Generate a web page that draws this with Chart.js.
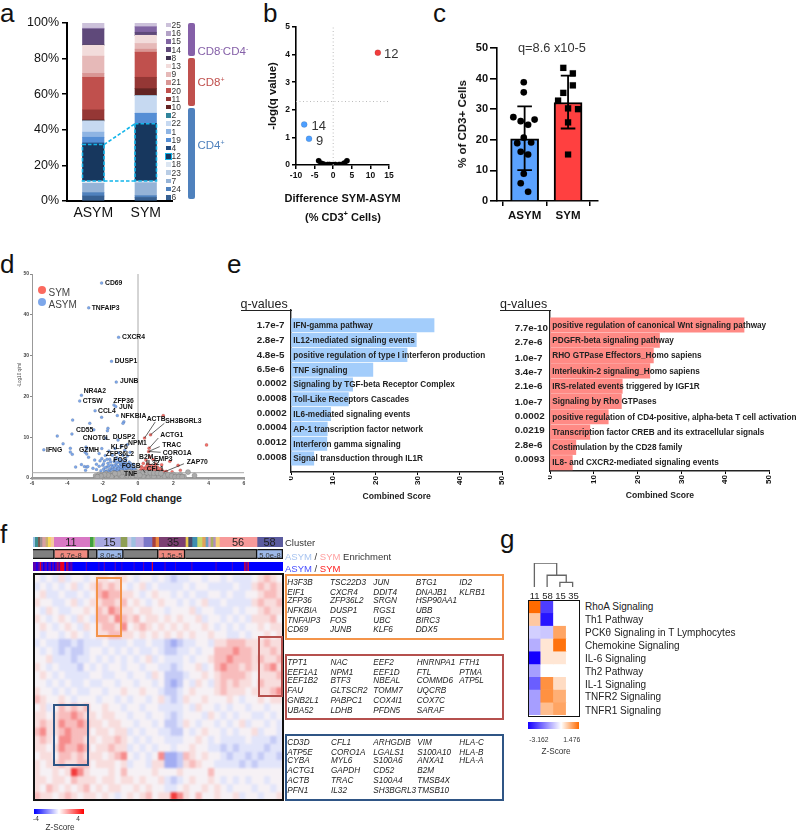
<!DOCTYPE html>
<html>
<head>
<meta charset="utf-8">
<script src="https://cdn.jsdelivr.net/npm/chart.js@4/dist/chart.umd.js"></script>
<style>
  html, body { margin: 0; padding: 0; background: #fff; }
  #page { position: relative; width: 800px; height: 830px; overflow: hidden; font-family: "Liberation Sans", Arial, sans-serif; }
  #page canvas { position: absolute; }
  .t { position: absolute; white-space: nowrap; transform: translateY(-50%); }
  .box { position: absolute; box-sizing: border-box; }
</style>
</head>
<body>
<div id="page"></div>
<script>
// --- panel a: cluster shares, bottom of the stack first ---
const clusterIds = ['6','24','7','23','18','12','4','19','1','22','2','10','11','20','21','9','13','8','14','15','16','25'];
const clusterColors = ['#376092','#4f81bd','#95b3d7','#b9cde5','#dce6f2','#17375e','#1f497d','#558ed5','#8eb4e3','#c6d9f1','#31859c','#632423','#953735','#c0504d','#d99694','#e6b9b8','#f2dcdb','#3f3151','#5f497a','#8064a2','#b3a2c7','#ccc1da'];
const asymShares = [2.8,1.9,5.2,0,1.3,20.5,0.9,3.2,2.9,6.3,0,0.6,5.6,18.3,2.2,9.7,6.1,0.2,8.9,0.1,0.4,2.9];
const symShares = [2.0,1.0,7.2,0,1.0,32.2,0.2,5.7,0,9.9,0,3.9,6.4,14.1,1.7,3.2,4.6,0,1.7,3.0,0.3,1.9];
const groupLabels = ['ASYM','SYM'];
const pctTicks = [0,20,40,60,80,100];

// --- panel b ---
const diffUp = [[12,4.07]];
const diffDown = [[-7.8,1.47],[-6.5,0.95]];
const diffFlat = [[-3.9,0.15],[-3.2,0.06],[-2.6,0.03],[-1.5,0.02],[-1,0.02],[-0.6,0.01],[-0.2,0.01],[0.2,0.01],[0.6,0.02],[1.6,0.02],[2.2,0.02],[3,0.07],[3.7,0.15]];
const qCutoff = 2.3;

// --- panel c ---
const meanShare = [20.3,32.2];
const errLow = [10.1,23.7];
const errHigh = [30.9,41];
const asymDots = [[-0.02,38.8],[-0.02,35.5],[-0.26,27.4],[0.23,26.6],[-0.09,26.1],[0.08,24.9],[-0.02,20.7],[-0.17,18.9],[0.15,19.1],[-0.09,16.1],[0.08,15.2],[-0.02,8.9],[-0.09,5.8],[0.08,3]];
const symDots = [[0.89,43.5],[1.11,41.7],[1.11,37.8],[0.89,35.3],[0.77,32.8],[1,30.3],[1.23,30],[1,25.7],[1,15.2]];

// --- panel d: volcano, [log2 fold change, -log10 q] ---
const volcanoAsym = [[-2.06,47.8],[-2.79,41.7],[-1.1,34.5],[-1.5,28.6],[-1.23,23.5],[-3.2,20.3],[-3.3,18.9],[-1.36,17.9],[-1.26,17.5],[-2.43,16.5],[-1.17,15.3],[-2.06,14.9],[-3.7,14.2],[-2.73,13.4],[-0.8,13.8],[-0.85,13.4],[-2.5,11.8],[-1.7,12.2],[-1.73,11.6],[-3.74,10.8],[-4.57,10.3],[-1.82,9.8],[-1.13,9.3],[-4.24,8.4],[-5.33,6.9],
[-3.83,7.3],[-3.83,6.4],[-3.72,5.8],[-3.53,2.7],[-3.2,3.3],[-3.03,2.8],[-2.9,2.7],[-2.97,1.9],[-2.84,2.8],[-2.94,7.6],[-2.9,7.1],[-2.99,6.3],[-2.9,5.9],[-2.8,5.1],[-2.45,4.4],[-2.35,3.4],[-2.15,4.2],[-2.05,4.8],[-2.2,6],[-2.05,7.2],[-2.55,2.4],[-2.35,2.1],[-2.2,2.9],[-2.1,1.8],[-2,3.1],[-1.95,2.2],[-1.9,4.2],[-1.85,5.5],[-1.8,1.7],[-1.75,2.7],[-1.7,3.6],[-1.65,6.6],[-1.6,1.5],[-1.6,4.6],[-1.55,2.2],[-1.5,3.2],[-1.45,5.6],[-1.4,1.6],[-1.4,2.7],[-1.35,4],[-1.3,7.2],[-1.25,2],[-1.25,3.3],[-1.2,1.5],[-1.2,5],[-1.15,2.6],[-1.1,3.9],[-1.1,6.2],[-1.05,1.7],[-1,2.3],[-1,3.1],[-0.95,4.4],[-0.95,7.8],[-0.9,1.5],[-0.9,2.9],[-0.85,5.6],[-0.8,2],[-0.8,3.6],[-0.75,6.8],[-0.75,1.6],[-0.7,2.6],[-0.7,4.6],[-0.65,1.9],[-0.65,3.2],[-0.6,8.2],[-0.6,5.4],[-0.55,1.5],[-0.55,2.3],[-0.5,3.9],[-0.45,1.7],[-0.45,6.3],[-0.4,2.8],[-0.35,1.5],[-0.3,2.1],[-0.25,3.4],[-0.2,1.6],[-0.15,2.2],[-1.6,2.2],[-1.3,1.6],[-1.9,1.6],[-1.45,2.1],[-1.05,2.9],[-0.85,2.3],[-0.6,1.9],[-1.7,1.8],
[-1.95,3.5],[-1.85,2.6],[-1.75,4.6],[-1.65,1.5],[-1.65,3],[-1.55,4],[-1.5,1.7],[-1.45,2.7],[-1.35,1.5],[-1.35,3],[-1.3,2.2],[-1.3,4.5],[-1.2,2.9],[-1.2,3.8],[-1.15,1.9],[-1.1,2.3],[-1.05,4.6],[-1,1.5],[-1,3.6],[-0.95,2.1],[-0.95,2.7],[-0.9,3.4],[-0.85,1.7],[-0.85,4],[-0.8,2.6],[-0.75,3.1],[-0.75,2.2],[-0.7,1.5],[-0.7,3.7],[-0.65,2.5],[-0.6,1.5],[-0.6,3],[-0.55,3.4],[-0.5,2],[-0.5,2.8],[-0.45,2.4],[-0.4,1.6],[-0.4,3.5],[-0.35,2.4],[-0.3,1.6],[-0.25,2.5],[-0.2,2.1],[-0.1,1.6]];
const volcanoSym = [[1.43,15.3],[3.88,8.1],[0.71,10.6],[0.37,9.8],[0.63,7.3],[0.6,6.5],[2.4,1.9],[1.34,3.25],[2.27,3.1],[1.8,4.1],[1.93,1.5],[1.49,1.5],[0.66,5.2],[0.85,4.6],[0.45,4.4],[0.3,3.6],[0.55,3.4],[0.75,3.1],[1,3.4],[0.2,2.8],[0.4,2.5],[0.6,2.7],[0.85,2.4],[1.1,2.7],[0.15,2],[0.3,1.8],[0.5,1.9],[0.7,1.7],[0.9,1.9],[1.15,1.8],[1.35,2],[0.12,1.5],[0.25,1.45],[0.4,1.5],[0.55,1.45],[0.75,1.5],[1,1.5],[1.2,1.45],[1.6,1.6],[0.35,2.2],[0.95,2.9],[0.5,3],
[0.2,1.7],[0.35,1.6],[0.45,1.8],[0.6,1.6],[0.65,2.1],[0.8,1.7],[0.9,1.6],[0.25,2.4],[0.45,2.2],[0.75,2.2],[1.05,2.1],[0.15,1.6],[0.55,2.3],[1.25,2.3]];
const volcanoFlat = [[-2.4,0.5],[-2.2,0.9],[-2.2,0.3],[-2,0.7],[-2,0.2],[-1.8,1.1],[-1.8,0.5],[-1.6,0.9],[-1.6,0.2],[-1.4,1.2],[-1.4,0.6],[-1.2,0.9],[-1.2,0.2],[-1,1.2],[-1,0.6],[-0.8,0.9],[-0.8,0.2],[-0.6,1.2],[-0.6,0.6],[-0.4,1.1],[-0.4,0.2],[-0.2,0.8],[-0.2,0.3],[0,1.1],[0,0.5],[0.2,0.8],[0.2,0.2],[0.4,1.1],[0.4,0.5],[0.6,0.9],[0.6,0.2],[0.8,1.1],[0.8,0.5],[1,0.8],[1,0.2],[1.2,1],[1.2,0.4],[1.4,0.7],[1.4,0.2],[1.6,0.9],[1.6,0.4],[1.8,0.6],[1.8,0.2],[2,0.8],[2,0.3],[2.2,0.5],[2.4,0.7],[2.4,0.2],[2.6,0.4],[2.83,1.46],[3.2,0.6],[-1.5,0.4],[-0.9,0.5],[-0.3,0.5],[0.3,0.5],[0.9,0.4],[1.5,0.5],
[-0.9,1.4],[-0.7,1.3],[-0.5,1.5],[-0.3,1.3],[-0.1,1.5],[0.1,1.3],[0.3,1.4],[0.5,1.3],[0.7,1.3],[0.9,1.2],[1.1,1.2],[1.3,1.1],[-1.1,1.1],[-1.3,1.1],[-1.7,0.7],[-1.9,0.8],[-2.1,0.5],[-2.3,0.3],[1.7,0.8],[1.9,0.5],[2.1,0.3],[2.3,0.3],[2.5,0.3],[-0.1,0.7],[0.1,0.7]];
const volcanoCut = 1.3;
const volcanoLeaders = [[0.37,9.8,0.97,13.7],[0.71,10.6,1.49,13.4],[0.63,7.3,1.15,9.8],[0.6,6.5,1.23,7.7],[0.6,6.5,1.28,6.3],[1.49,1.5,2.6,3.5],[0.25,2.2,0.4,1.3]];

// --- panel e ---
const asymPathways = ['IFN-gamma pathway','IL12-mediated signaling events','positive regulation of type I interferon production','TNF signaling','Signaling by TGF-beta Receptor Complex','Toll-Like Receptors Cascades','IL6-mediated signaling events','AP-1 transcription factor network','Interferon gamma signaling','Signal transduction through IL1R'];
const asymScores = [33.9,29.7,27.5,19.4,14.6,13.6,9.4,8.6,8.5,5.4];
const asymQ = ['1.7e-7','2.8e-7','4.8e-5','6.5e-6','0.0002','0.0008','0.0002','0.0004','0.0012','0.0008'];
const symPathways = ['positive regulation of canonical Wnt signaling pathway','PDGFR-beta signaling pathway','RHO GTPase Effectors_Homo sapiens','Interleukin-2 signaling_Homo sapiens','IRS-related events triggered by IGF1R','Signaling by Rho GTPases','positive regulation of CD4-positive, alpha-beta T cell activation','Transcription factor CREB and its extracellular signals','Costimulation by the CD28 family','IL8- and CXCR2-mediated signaling events'];
const symScores = [44.3,25,23.6,22.8,16.5,16.3,13.3,9.1,5.9,5.1];
const symQ = ['7.7e-10','2.7e-6','1.0e-7','3.4e-7','2.1e-6','1.0e-7','0.0002','0.0219','2.8e-6','0.0093'];

// --- panel f: annotation strips ---
const clusterStripWidths = [5,9,6,7,10,7,8,10,108,10,5,5,72,20,12,13,23,2,25,10,10,80,8,12,15,15,10,8,7,8,7,12,113,78];
const clusterStripColors = ['#9cc3e6','#3d8f8f','#7a5c50','#9a8f8f','#d9a0a0','#c8b070','#f5d75a','#f5c9a0','#d878c4','#3f9f3f','#9ccc7a','#b7a8d8','#a8a8e0','#8f9f55','#c9c9e8','#9fc0e0','#c0b0e0','#a08fd0','#7c78c8','#a8403f','#e8853f','#7b3f72','#e8c84f','#4a4a6a','#3f8fb0','#c8d86a','#e0a05a','#6a9fc0','#d8a0c8','#a8b060','#b08fc0','#f5d07a','#f79a9a','#5b5b9e'];
const enrichWidths = [64,102,26,78,104,80,215,77];
const enrichColors = ['#808080','#f08a80','#808080','#9cb8e8','#808080','#f08a80','#808080','#9cb8e8'];
const sideBlue = '#0000ff', sidePurple = '#5a00b0', sideRed = '#e80020';
const sideWidths = [8,3,6,3,5,4,6,4,7,3,5,3,6,2,5,3,7,2,4,3,5,2,6,3,32,3,30,2,12,3,25,3,15,2,30,2,22,3,20,3,30,3,25,2,40,3,60,3,40,2,30,3,6,3,90];
const sideColors = [sidePurple,sideBlue,sidePurple,sideRed,sidePurple,sideBlue,sidePurple,sideBlue,sidePurple,sideBlue,sidePurple,sideBlue,sidePurple,sideRed,sidePurple,sideRed,sideRed,sidePurple,sideBlue,sideRed,sidePurple,sideBlue,sidePurple,sideBlue,sideBlue,sidePurple,sideBlue,sidePurple,sideBlue,sidePurple,sideBlue,sidePurple,sideBlue,sidePurple,sideBlue,sidePurple,sideBlue,sidePurple,sideBlue,sideRed,sideBlue,sidePurple,sideBlue,sidePurple,sideBlue,sidePurple,sideBlue,sidePurple,sideBlue,sidePurple,sideBlue,sideRed,sidePurple,sideRed,sideBlue];

// --- panel f: heatmap read coarsely by region, one row per line, top first ---
const heatRows = [
[0,-1,0,-1,1,-1,0,0,-1,0, 1,1,0,1,1, 0,-1,0,0,-1,0, -1,-2,-1, -1,0,0,-1,0,0, -1,0,-1,-1,-1,0, 1,2,1,0],
[-1,0,-1,0,-1,0,1,-1,0,1, 2,1,2,1,0, -1,0,1,-1,0,-1, -1,-1,-1, 0,-1,0,0,-1,-1, -1,-1,0,-1,-1,1, 2,1,2,1],
[0,1,-1,-1,0,-1,-1,0,-1,0, 2,3,2,2,1, 1,0,-1,0,1,0, 0,-1,0, -1,0,-1,-1,0,0, -1,0,-1,-1,0,0, 1,2,2,1],
[1,0,0,-1,-1,0,1,-1,0,1, 1,2,2,1,2, 0,1,0,-1,0,1, 0,0,-1, 0,-1,0,1,-1,-1, 0,-1,-1,-1,-1,1, 2,1,1,2],
[0,-1,1,0,-1,-1,0,0,1,0, 2,1,3,2,1, 1,0,1,1,0,0, -1,0,0, 0,1,-1,0,0,-1, -1,-1,0,-1,0,0, 1,2,1,1],
[1,0,-1,0,1,0,-1,1,0,-1, 2,2,1,3,2, 1,2,0,1,1,0, 1,0,1, 0,0,1,-1,0,0, -1,0,-1,0,-1,1, 1,1,2,0],
[0,1,0,-1,0,1,0,-1,1,0, 1,2,2,1,3, 0,1,2,1,0,1, 0,1,0, 1,0,0,1,0,-1, 0,-1,0,-1,0,0, 1,0,1,1],
[0,-1,0,0,-1,0,1,0,-1,0, 1,1,2,2,1, 1,0,1,0,1,0, 1,0,1, 0,1,0,0,1,0, 0,-1,-1,0,-1,0, 0,1,0,1],
[-1,0,-1,-1,-2,-2,-1,-2,-1,-1, -1,0,-1,-1,-1, 0,-1,-1,0,-1,-1, -2,-3,-2, -1,-1,0,0,-1,1, 1,2,2,2,1,1, 1,2,1,1],
[0,-1,0,-1,-2,-1,-2,-2,-1,0, 0,-1,0,-1,0, -1,0,-1,-1,0,-1, -2,-2,-1, -1,0,-1,0,0,2, 2,2,3,2,2,1, 1,1,2,1],
[0,0,1,-1,-1,-1,-2,-1,-1,0, -1,0,-1,0,-1, 0,-1,0,1,-1,0, -1,-1,-1, 0,-1,0,0,1,2, 2,3,2,2,2,1, 2,1,1,2],
[1,0,-1,0,-1,-1,-1,-2,0,-1, 0,-1,0,0,-1, 0,0,-1,0,0,-1, -1,-2,-1, 0,0,1,-1,0,2, 3,2,2,1,2,1, 1,2,3,1],
[0,1,0,-1,0,-1,-1,-1,-1,0, 0,-1,-1,0,0, -1,0,0,-1,1,0, -2,-2,-2, -1,0,0,1,0,1, 2,2,2,2,1,0, 1,1,1,2],
[0,0,-1,0,-1,0,-1,-1,0,-1, -1,0,0,-1,0, 0,-1,0,0,-1,0, -2,-3,-2, 0,-1,1,0,-1,1, 2,1,2,1,1,0, 2,1,1,1],
[1,0,0,-1,0,-1,0,-1,-1,0, 0,-1,0,0,1, 0,0,1,0,0,-1, -2,-2,-1, 0,1,0,0,0,1, 2,1,1,1,0,1, 1,1,2,3],
[2,1,0,0,1,0,-1,0,0,0, -1,0,0,-1,0, -1,0,0,-1,0,1, -1,-2,-1, 1,0,0,1,0,0, 0,1,0,-1,0,0, 1,0,1,1],
[0,1,-1,0,2,1,2,1,2,0, 0,1,0,0,-1, 0,0,-1,0,0,-1, -1,-1,-1, 0,-1,1,0,0,-1, 0,-1,0,0,-1,0, 0,-1,0,0],
[1,1,0,1,2,2,3,2,1,1, 0,1,1,0,0, -1,0,0,-1,0,0, -1,-2,-1, 0,0,0,-1,1,0, -1,0,-1,0,0,-1, -1,0,-1,0],
[1,2,1,1,3,2,2,3,2,1, 1,0,1,1,0, 0,-1,0,0,-1,0, -2,-2,-1, 1,0,-1,0,0,-1, 0,-1,0,1,-1,0, 0,-1,0,-1],
[2,3,1,1,2,3,2,2,2,0, 1,1,0,1,1, -1,0,-1,0,0,-1, -1,-2,-2, 0,-1,0,1,0,0, -1,0,-1,0,0,1, -1,0,0,-1],
[1,2,1,0,3,3,2,2,1,1, 0,1,1,2,1, 0,-1,0,-1,0,0, -1,-1,-1, 0,0,1,0,-1,0, -1,-1,-1,-1,0,-1, -1,-1,-2,-1],
[1,1,0,1,3,2,2,3,2,0, 1,1,2,1,1, -1,0,-1,0,-1,0, 0,-1,0, 0,1,0,0,-1,-1, -2,-1,-2,-1,-1,-1, -1,-2,-1,-1],
[0,1,1,0,2,2,1,2,1,1, 1,0,1,2,3, 0,-1,0,-1,0,3, -3,-3,-2, 2,1,0,1,0,0, -1,-2,-1,-1,-2,-1, -2,-1,-1,-2],
[1,0,1,1,2,1,1,2,2,0, 1,1,1,0,1, -1,0,0,-1,1,1, -3,-3,-2, 1,2,1,0,0,-1, -1,-1,-1,-2,-1,-2, -1,-1,-1,-1],
[1,0,0,1,0,1,4,3,1,0, 0,0,1,0,2, 0,0,0,0,1,0, 0,0,1, 0,0,0,0,2,0, 0,0,0,0,0,0, 0,0,0,0],
[1,1,0,1,1,0,2,1,1,1, 0,1,1,0,1, 1,0,1,0,0,1, -1,-2,-1, 0,1,0,0,1,0, -1,0,-1,0,-1,0, 0,-1,0,0],
[1,0,2,1,0,1,0,1,2,0, 1,0,1,1,0, 0,1,0,1,0,0, -1,-1,0, 1,0,0,1,0,1, 0,-1,0,0,0,-1, 0,0,-1,0],
[2,1,1,0,1,2,1,0,1,1, 0,1,0,-1,0, 1,0,1,2,0,1, 1,4,3, 1,0,2,0,0,1, 0,0,1,-1,0,0, -1,0,0,1]
];
const heatPalette = {'-3':'#a3adf2','-2':'#c5cbf6','-1':'#e2e5fa','0':'#f6f1f5','1':'#f8dddd','2':'#f8bcbc','3':'#f68c8c','4':'#f23c3c'};

// --- panel f: gene lists per box ---
const geneBoxOrange = [['H3F3B','TSC22D3','JUN','BTG1','ID2'],['EIF1','CXCR4','DDIT4','DNAJB1','KLRB1'],['ZFP36','ZFP36L2','SRGN','HSP90AA1',''],['NFKBIA','DUSP1','RGS1','UBB',''],['TNFAIP3','FOS','UBC','BIRC3',''],['CD69','JUNB','KLF6','DDX5','']];
const geneBoxRed = [['TPT1','NAC','EEF2','HNRNPA1','FTH1'],['EEF1A1','NPM1','EEF1D','FTL','PTMA'],['EEF1B2','BTF3','NBEAL','COMMD6','ATP5L'],['FAU','GLTSCR2','TOMM7','UQCRB',''],['GNB2L1','PABPC1','COX4I1','COX7C',''],['UBA52','LDHB','PFDN5','SARAF','']];
const geneBoxBlue = [['CD3D','CFL1','ARHGDIB','VIM','HLA-C'],['ATP5E','CORO1A','LGALS1','S100A10','HLA-B'],['CYBA','MYL6','S100A6','ANXA1','HLA-A'],['ACTG1','GAPDH','CD52','B2M',''],['ACTB','TRAC','S100A4','TMSB4X',''],['PFN1','IL32','SH3BGRL3','TMSB10','']];

// --- panel g ---
const ipaClusters = ['11','58','15','35'];
const ipaPathways = ['RhoA Signaling','Th1 Pathway','PCK\u03B8 Signaling in T Lymphocytes','Chemokine Signaling','IL-6 Signaling','Th2 Pathway','IL-1 Signaling','TNFR2 Signaling','TNFR1 Signaling'];
const ipaZ = [
[1.476,-2.4,0,0],
[0.55,-2.9,0,0],
[-0.6,-0.7,0.9,0],
[-1,0.25,1.4,0],
[-3.162,0.25,0.25,0],
[-1.2,0,0,0],
[-2,1.1,0.35,0],
[-1.2,1.1,0.8,0],
[-1.2,0.65,0.9,0]
];
const dendroLinks = [[[2,0],[2,0.19],[3,0.19],[3,0]],[[1,0],[1,0.49],[2.5,0.49],[2.5,0.19]],[[0,0],[0,1],[1.75,1],[1.75,0.49]]];

const page = document.getElementById('page');
Chart.defaults.font.family = '"Liberation Sans", Arial, sans-serif';

function txt(html, x, y, css) {
    const el = document.createElement('div');
    el.className = 't';
    el.innerHTML = html;
    el.style.cssText = 'left:' + x + 'px;top:' + y + 'px;' + (css || '');
    page.appendChild(el);
    return el;
}

function box(x, y, w, h, css) {
    const el = document.createElement('div');
    el.className = 'box';
    el.style.cssText = 'left:' + x + 'px;top:' + y + 'px;width:' + w + 'px;height:' + h + 'px;' + css;
    page.appendChild(el);
}

// pin the chart area to (l,t)-(r,b) on the page, m holds the room kept for axes
function pane(l, t, r, b, m, config) {
    const c = document.createElement('canvas');
    c.width = r - l + m.l + m.r;
    c.height = b - t + m.t + m.b;
    c.style.left = (l - m.l) + 'px';
    c.style.top = (t - m.t) + 'px';
    page.appendChild(c);
    const o = config.options = config.options || {};
    o.responsive = false;
    o.animation = false;
    o.devicePixelRatio = 1;
    o.layout = { padding: { top: m.t, right: m.r, left: 0, bottom: 0 } };
    o.plugins = Object.assign({ legend: { display: false }, tooltip: { enabled: false } }, o.plugins || {});
    Object.values(o.scales).forEach(s => {
        const horiz = s.axis === 'x';
        s.afterFit = axis => {
            if (horiz) axis.height = m.b; else axis.width = m.l;
            axis.paddingLeft = axis.paddingRight = axis.paddingTop = axis.paddingBottom = 0;
        };
    });
    const chart = new Chart(c, config);
    chart.pageLeft = l - m.l;
    chart.pageTop = t - m.t;
    return chart;
}

const pts = list => list.map(p => ({ x: p[0], y: p[1] }));
const blackTick = (len, w) => ({ drawOnChartArea: false, tickLength: len, color: '#000', lineWidth: w });

// panel letters
[['a',0,13],['b',263,13],['c',433,13],['d',0,264],['e',227,264],['f',0,534],['g',500,539]].forEach(p => {
    txt(p[0], p[1], p[2], 'font-size:26px;color:#111;');
});

// --- a ---
const dashBoxes = {
    id: 'dashBoxes',
    afterDatasetsDraw(chart) {
        const idx = clusterIds.indexOf('12');
        const bars = chart.getDatasetMeta(idx).data;
        const ctx = chart.ctx;
        ctx.save();
        ctx.strokeStyle = '#12b5ea';
        ctx.lineWidth = 1.6;
        ctx.setLineDash([3.5, 2]);
        bars.forEach(b => ctx.strokeRect(b.x - b.width / 2, b.y, b.width, b.base - b.y));
        const [p, q] = bars;
        ctx.beginPath();
        ctx.moveTo(p.x + p.width / 2, p.y);
        ctx.lineTo(q.x - q.width / 2, q.y);
        ctx.moveTo(p.x + p.width / 2, p.base);
        ctx.lineTo(q.x - q.width / 2, q.base);
        ctx.stroke();
        ctx.restore();
    }
};
pane(67, 23, 172, 201.5, { l: 50, t: 8, r: 2, b: 24 }, {
    type: 'bar',
    data: {
        labels: groupLabels,
        datasets: clusterIds.map((id, i) => ({
            label: id,
            data: [asymShares[i], symShares[i]],
            backgroundColor: clusterColors[i],
            barThickness: 21.5
        }))
    },
    options: {
        scales: {
            x: {
                axis: 'x', stacked: true,
                grid: { display: false, drawTicks: false },
                border: { color: '#000', width: 2 },
                ticks: { color: '#111', font: { size: 14 }, padding: 4 }
            },
            y: {
                axis: 'y', stacked: true, min: 0, max: 100,
                afterBuildTicks: s => { s.ticks = pctTicks.map(v => ({ value: v })); },
                grid: blackTick(5, 1.5),
                border: { color: '#000', width: 2 },
                ticks: { color: '#111', font: { size: 12.5 }, padding: 3, callback: v => v + '%' }
            }
        }
    },
    plugins: [dashBoxes]
});
clusterIds.slice().reverse().forEach((id, i) => {
    const y = 25 + i * 8.2;
    const col = clusterColors[clusterIds.length - 1 - i];
    box(166, y - 2.2, 4.5, 4.5, 'background:' + col + ';' + (id === '12' ? 'outline:1px solid #12b5ea;' : ''));
    txt(id, 171.5, y, 'font-size:8.4px;color:#333;');
});
box(188, 23, 6.5, 33, 'background:#8560a8;border-radius:2px;');
box(188, 58, 6.5, 47.5, 'background:#c0504d;border-radius:2px;');
box(188, 107.5, 6.5, 91, 'background:#4f81bd;border-radius:2px;');
txt('CD8<sup style="font-size:7px">-</sup>CD4<sup style="font-size:7px">-</sup>', 197.5, 51, 'font-size:11.5px;color:#8560a8;');
txt('CD8<sup style="font-size:7px">+</sup>', 197.5, 82, 'font-size:11.5px;color:#c0504d;');
txt('CD4<sup style="font-size:7px">+</sup>', 197.5, 145, 'font-size:11.5px;color:#4f81bd;');

// --- b ---
const lineSet = (data, color, dash, width) => ({
    type: 'scatter', data: data, showLine: true, pointRadius: 0,
    borderColor: color, borderWidth: width, borderDash: dash
});
pane(296, 27, 389, 165.7, { l: 30, t: 6, r: 16, b: 22 }, {
    type: 'scatter',
    data: {
        datasets: [
            lineSet([{ x: 0, y: 0 }, { x: 0, y: 5 }], '#bbb', [1, 2.5], 1),
            lineSet([{ x: -10, y: qCutoff }, { x: 15, y: qCutoff }], '#bbb', [1, 2.5], 1),
            { data: pts(diffFlat), pointRadius: 2.8, backgroundColor: '#000' },
            { data: pts(diffDown), pointRadius: 3, backgroundColor: '#4d9fff' },
            { data: pts(diffUp), pointRadius: 3, backgroundColor: '#f23c3c' }
        ]
    },
    options: {
        scales: {
            x: {
                axis: 'x', type: 'linear', min: -10, max: 15,
                grid: blackTick(4, 1.5),
                border: { color: '#000', width: 1.6 },
                ticks: { stepSize: 5, color: '#111', font: { size: 8.5, weight: 'bold' }, padding: 2, maxRotation: 0, autoSkip: false }
            },
            y: {
                axis: 'y', min: 0, max: 5,
                grid: blackTick(4, 1.5),
                border: { color: '#000', width: 1.6 },
                ticks: { stepSize: 1, color: '#111', font: { size: 8.5, weight: 'bold' }, padding: 2 },
                title: { display: true, text: '-log(q value)', color: '#111', font: { size: 11.4, weight: 'bold' }, padding: 0 }
            }
        }
    }
});
txt('12', 384, 53, 'font-size:13px;color:#333;');
txt('14', 311.5, 125, 'font-size:13px;color:#333;');
txt('9', 316, 139.5, 'font-size:13px;color:#333;');
txt('Difference SYM-ASYM', 342.7, 198, 'font-size:11px;font-weight:bold;color:#111;transform:translate(-50%,-50%);');
txt('(% CD3<sup style="font-size:7.5px">+</sup> Cells)', 343, 215.5, 'font-size:11px;font-weight:bold;color:#111;transform:translate(-50%,-50%);');

// --- c ---
const errorBars = {
    id: 'errorBars',
    afterDatasetsDraw(chart) {
        const ctx = chart.ctx, sx = chart.scales.x, sy = chart.scales.y;
        ctx.save();
        ctx.strokeStyle = '#000';
        ctx.lineWidth = 1.8;
        meanShare.forEach((m, i) => {
            const x = sx.getPixelForValue(i), a = sy.getPixelForValue(errLow[i]), b = sy.getPixelForValue(errHigh[i]);
            ctx.beginPath();
            ctx.moveTo(x, a); ctx.lineTo(x, b);
            ctx.moveTo(x - 7.3, a); ctx.lineTo(x + 7.3, a);
            ctx.moveTo(x - 7.3, b); ctx.lineTo(x + 7.3, b);
            ctx.stroke();
        });
        ctx.restore();
    }
};
pane(497, 48, 599, 201.7, { l: 40, t: 6, r: 4, b: 24 }, {
    type: 'bar',
    data: {
        datasets: [
            { type: 'scatter', order: 0, data: pts(asymDots), pointRadius: 3.3, backgroundColor: '#000' },
            { type: 'scatter', order: 0, data: pts(symDots), pointStyle: 'rect', pointRadius: 4.4, backgroundColor: '#000' },
            {
                order: 1,
                data: meanShare.map((v, i) => ({ x: i, y: v })),
                backgroundColor: ['#5aa2ff', '#ff4040'],
                borderColor: '#000', borderWidth: 2, barThickness: 28
            }
        ]
    },
    options: {
        scales: {
            x: {
                axis: 'x', type: 'linear', min: -0.636, max: 1.68, offset: false,
                afterBuildTicks: s => { s.ticks = groupLabels.map((g, i) => ({ value: i })); },
                grid: blackTick(5, 1.5),
                border: { color: '#000', width: 1.6 },
                ticks: { color: '#111', font: { size: 11.5, weight: 'bold' }, padding: 3, maxRotation: 0, autoSkip: false, callback: v => groupLabels[v] }
            },
            y: {
                axis: 'y', min: 0, max: 50,
                grid: blackTick(7, 1.6),
                border: { color: '#000', width: 1.6 },
                ticks: { stepSize: 10, color: '#111', font: { size: 11, weight: 'bold' }, padding: 2 }
            }
        }
    },
    plugins: [errorBars]
});
txt('% of CD3+ Cells', 462, 124, 'font-size:11.5px;font-weight:bold;color:#111;transform:translate(-50%,-50%) rotate(-90deg);');
txt('q=8.6 x10-5', 518, 46.5, 'font-size:12.8px;color:#333;');

// --- d ---
const leaderLines = {
    id: 'leaderLines',
    afterDatasetsDraw(chart) {
        const ctx = chart.ctx, sx = chart.scales.x, sy = chart.scales.y;
        ctx.save();
        ctx.strokeStyle = '#222';
        ctx.lineWidth = 0.7;
        volcanoLeaders.forEach(l => {
            ctx.beginPath();
            ctx.moveTo(sx.getPixelForValue(l[0]), sy.getPixelForValue(l[1]));
            ctx.lineTo(sx.getPixelForValue(l[2]), sy.getPixelForValue(l[3]));
            ctx.stroke();
        });
        ctx.restore();
    }
};
pane(31.7, 272.7, 247, 477.7, { l: 14, t: 4, r: 2, b: 14 }, {
    type: 'scatter',
    data: {
        datasets: [
            lineSet([{ x: 0, y: 0 }, { x: 0, y: 50 }], '#aaa', [], 1),
            { data: pts(volcanoFlat), pointRadius: 2.6, backgroundColor: '#aaaaaa' },
            lineSet([{ x: -6, y: volcanoCut }, { x: 6, y: volcanoCut }], '#aaa', [], 1),
            { data: pts(volcanoAsym), pointRadius: 1.5, backgroundColor: '#7da7ea' },
            { data: pts(volcanoSym), pointRadius: 1.6, backgroundColor: '#f2706a' }
        ]
    },
    options: {
        scales: {
            x: {
                axis: 'x', type: 'linear', min: -6, max: 6,
                grid: { drawOnChartArea: false, tickLength: 2, color: '#888' },
                border: { color: '#999', width: 2.4 },
                ticks: { stepSize: 2, color: '#444', font: { size: 5, weight: 'bold' }, padding: 1, maxRotation: 0, autoSkip: false }
            },
            y: {
                axis: 'y', min: 0, max: 50,
                grid: { drawOnChartArea: false, tickLength: 2, color: '#888' },
                border: { color: '#999', width: 1 },
                ticks: { stepSize: 10, color: '#444', font: { size: 5, weight: 'bold' }, padding: 1 }
            }
        }
    },
    plugins: [leaderLines]
});
txt('-Log10 q/ml', 19, 375, 'font-size:4.5px;color:#444;transform:translate(-50%,-50%) rotate(-90deg);');
txt('Log2 Fold change', 137, 498, 'font-size:10.5px;font-weight:bold;color:#222;transform:translate(-50%,-50%);');
box(38, 286, 8, 8, 'background:#fb6a5f;border-radius:50%;');
box(38, 297.5, 8, 8, 'background:#7da7ea;border-radius:50%;');
txt('SYM', 48.5, 292, 'font-size:10px;color:#444;');
txt('ASYM', 48.5, 303.5, 'font-size:10px;color:#444;');
[['CD69',105,281.7],['TNFAIP3',91.7,306.7],['CXCR4',122,336.3],['DUSP1',114.7,360.3],['JUNB',120,380.3],['NR4A2',83.7,389.7],['CTSW',82.7,400],['ZFP36',113.3,400],['JUN',119,405.7],['CCL4',98,410],['NFKBIA',120.7,415],['ACTB',146.7,417.7],['SH3BGRL3',165.3,420],['CD55',76,429.3],['CNOT6L',82.7,437.3],['DUSP2',112.7,436],['ACTG1',160.3,434.3],['NPM1',128,442],['KLF6',110.7,446],['TRAC',162.3,444.3],['GZMH',79,449],['IFNG',46,449],['CORO1A',162.7,451.7],['ZFP36L2',105.7,453],['B2M',139,456],['EMP3',154,458.3],['FOS',113.3,459.3],['ZAP70',186.7,461.3],['IL32',146,462],['FOSB',121.7,465.3],['CFL1',146.7,468],['TNF',124,473]].forEach(g => {
    txt(g[0], g[1], g[2], 'font-size:6.8px;font-weight:bold;color:#111;');
});

// --- e ---
function pathwayPanel(l, t, r, b, names, scores, color, thickness, firstY, step, labelX) {
    const chart = pane(l, t, r, b, { l: 2, t: 2, r: 4, b: 32 }, {
        type: 'bar',
        data: { datasets: [{ data: scores.map((v, i) => ({ x: v, y: i })), backgroundColor: color, barThickness: thickness }] },
        options: {
            indexAxis: 'y',
            scales: {
                x: {
                    axis: 'x', type: 'linear', min: 0, max: 50,
                    grid: blackTick(3, 1),
                    border: { color: '#222', width: 1.4 },
                    ticks: { stepSize: 10, color: '#111', font: { size: 8, weight: 'bold' }, padding: 1, minRotation: 90, maxRotation: 90, autoSkip: false }
                },
                y: {
                    axis: 'y', type: 'linear', reverse: true, offset: false,
                    min: (t - firstY) / step, max: (b - firstY) / step,
                    ticks: { display: false },
                    grid: { display: false },
                    border: { color: '#222', width: 1.4 }
                }
            }
        }
    });
    names.forEach((n, i) => {
        txt(n, labelX, chart.pageTop + chart.scales.y.getPixelForValue(i), 'font-size:8.2px;font-weight:bold;color:#222;');
    });
}
pathwayPanel(291, 310, 502.7, 472.3, asymPathways, asymScores, '#a3cdfb', 13.4, 325.3, 14.83, 293.3);
pathwayPanel(550.3, 310.7, 769.3, 470.7, symPathways, symScores, '#ff8a85', 14.4, 324.7, 15.3, 552.3);
txt('Combined Score', 396.7, 495.7, 'font-size:8.6px;font-weight:bold;color:#222;transform:translate(-50%,-50%);');
txt('Combined Score', 660, 495, 'font-size:8.6px;font-weight:bold;color:#222;transform:translate(-50%,-50%);');
txt('q-values', 240.5, 303.5, 'font-size:12.5px;color:#222;');
box(240.5, 309.5, 51, 1, 'background:#222;');
txt('q-values', 500, 303.5, 'font-size:12.5px;color:#222;');
box(500, 309.5, 51, 1, 'background:#222;');
[324,338.7,353.7,368,382,397,411.7,425.7,441.3,455.7].forEach((y, i) => {
    txt(asymQ[i], 256.7, y, 'font-size:9.8px;font-weight:bold;color:#222;');
});
[327.3,341,356.7,371.3,385.3,400.7,414.7,429,444.3,458.3].forEach((y, i) => {
    txt(symQ[i], 514.7, y, 'font-size:9.8px;font-weight:bold;color:#222;');
});

// --- f strips ---
function strip(t, b, widths, colors, edge) {
    const total = widths.reduce((s, w) => s + w, 0);
    pane(33, t, 283, b, { l: 0, t: 0, r: 0, b: 0 }, {
        type: 'bar',
        data: {
            labels: [''],
            datasets: widths.map((w, i) => ({
                data: [w], backgroundColor: colors[i],
                borderColor: edge || colors[i], borderWidth: edge ? 1.6 : 0,
                barPercentage: 1, categoryPercentage: 1
            }))
        },
        options: {
            indexAxis: 'y',
            scales: {
                x: { axis: 'x', type: 'linear', stacked: true, display: false, min: 0, max: total },
                y: { axis: 'y', stacked: true, display: false }
            }
        }
    });
}
strip(536.7, 546.7, clusterStripWidths, clusterStripColors);
strip(549, 559.5, enrichWidths, enrichColors, '#111');
strip(561.7, 571, sideWidths, sideColors);
[['11',71],['15',109.5],['35',173],['56',238],['58',269.5]].forEach(p => {
    txt(p[0], p[1], 541.7, 'font-size:11px;color:#222;transform:translate(-50%,-50%);');
});
[['6.7e-8',71],['8.0e-5',110.7],['1.5e-5',171.7],['5.0e-8',270]].forEach(p => {
    txt(p[0], p[1], 555, 'font-size:7.6px;color:#333;transform:translate(-50%,-50%);');
});
txt('Cluster', 285, 542.3, 'font-size:9.5px;color:#333;');
txt('<span style="color:#a8c4f0">ASYM</span> / <span style="color:#ffa0a0">SYM</span> Enrichment', 285, 555.7, 'font-size:9.5px;color:#333;');
txt('<span style="color:#4a50ff">ASYM</span> / <span style="color:#ff2020">SYM</span>', 285, 568, 'font-size:9.5px;color:#333;');

// --- f heatmap ---
const heatChart = pane(34, 574, 283, 800, { l: 0, t: 0, r: 0, b: 0 }, {
    type: 'bar',
    data: {
        labels: heatRows[0].map((v, i) => i),
        datasets: heatRows.map(row => ({
            data: row.map(() => 1),
            backgroundColor: row.map(v => heatPalette[v]),
            barPercentage: 1, categoryPercentage: 1
        }))
    },
    options: {
        scales: {
            x: { axis: 'x', stacked: true, display: false },
            y: { axis: 'y', stacked: true, display: false, reverse: true, min: 0, max: heatRows.length }
        }
    }
});
heatChart.canvas.style.filter = 'blur(1.3px)';
box(33, 573, 251, 228, 'border:2px solid #111;');
box(96, 577, 26, 60, 'border:2px solid #f4944a;');
box(257.7, 636, 25, 61, 'border:2px solid #b5504e;');
box(53, 704, 35.5, 62, 'border:2px solid #2f5585;');
box(34, 809.3, 49.5, 5, 'background:linear-gradient(to right,#0000ff,#fff 50%,#ff0000);');
txt('-4', 36, 817.5, 'font-size:6.5px;color:#333;transform:translate(-50%,-50%);');
txt('4', 78, 817.5, 'font-size:6.5px;color:#333;transform:translate(-50%,-50%);');
txt('Z-Score', 60, 827, 'font-size:8.2px;color:#333;transform:translate(-50%,-50%);');

function geneBox(y, h, color, rows, rowYs, colXs) {
    box(285, y, 219, h, 'border:2px solid ' + color + ';');
    rows.forEach((row, r) => row.forEach((g, c) => {
        if (g) txt(g, colXs[c], rowYs[r], 'font-size:8.2px;font-style:italic;color:#222;');
    }));
}
geneBox(574, 66, '#f4944a', geneBoxOrange, [581.7,591.7,600,610,620,629.3], [287.3,330,373.3,415.7,459.3]);
geneBox(654, 66, '#b5504e', geneBoxRed, [661.7,671.7,680,690,700,710], [287.3,330.5,373.3,416.7,459.3]);
geneBox(734, 66.5, '#2f5585', geneBoxBlue, [742,752,760,770,780,790], [287.3,331,373.3,417.3,459.3]);

// --- g ---
function ipaColor(z) {
    if (z === 0) return '#ffffff';
    const mix = (a, b, k) => Math.round(a + (b - a) * k);
    if (z > 0) {
        const k = Math.min(z / 1.476, 1);
        return 'rgb(255,' + mix(255, 107, k) + ',' + mix(255, 0, k) + ')';
    }
    const k = Math.min(-z / 3.162, 1);
    return 'rgb(' + mix(255, 20, k) + ',' + mix(255, 0, k) + ',255)';
}
pane(528, 600, 579.3, 715.7, { l: 0, t: 0, r: 0, b: 0 }, {
    type: 'bar',
    data: {
        labels: ipaClusters,
        datasets: ipaZ.map(row => ({
            data: row.map(() => 1),
            backgroundColor: row.map(ipaColor),
            barPercentage: 1, categoryPercentage: 1
        }))
    },
    options: {
        scales: {
            x: { axis: 'x', stacked: true, display: false },
            y: { axis: 'y', stacked: true, display: false, reverse: true, min: 0, max: ipaZ.length }
        }
    }
});
box(527.5, 599.5, 52.5, 117, 'border:1.6px solid #111;');
pane(528, 563.3, 579.3, 587.3, { l: 0, t: 1, r: 0, b: 1 }, {
    type: 'scatter',
    data: { datasets: dendroLinks.map(l => lineSet(pts(l), '#666', [], 1.3)) },
    options: {
        scales: {
            x: { axis: 'x', type: 'linear', display: false, min: -0.5, max: 3.5 },
            y: { axis: 'y', display: false, min: 0, max: 1 }
        }
    }
});
ipaClusters.forEach((c, i) => {
    txt(c, 534.6 + i * 12.95, 595, 'font-size:9.5px;color:#222;transform:translate(-50%,-50%);');
});
ipaPathways.forEach((p, i) => {
    txt(p, 585, [606,619,632,645,658,671,683.7,696,710][i], 'font-size:10px;color:#222;');
});
box(528, 722, 51.3, 7, 'background:linear-gradient(to right,#1400ff,#fff 65%,#ff6b00);');
txt('-3.162', 539, 739, 'font-size:6.8px;color:#333;transform:translate(-50%,-50%);');
txt('1.476', 571.7, 739, 'font-size:6.8px;color:#333;transform:translate(-50%,-50%);');
txt('Z-Score', 556, 751, 'font-size:8.2px;color:#333;transform:translate(-50%,-50%);');
</script>
</body>
</html>
